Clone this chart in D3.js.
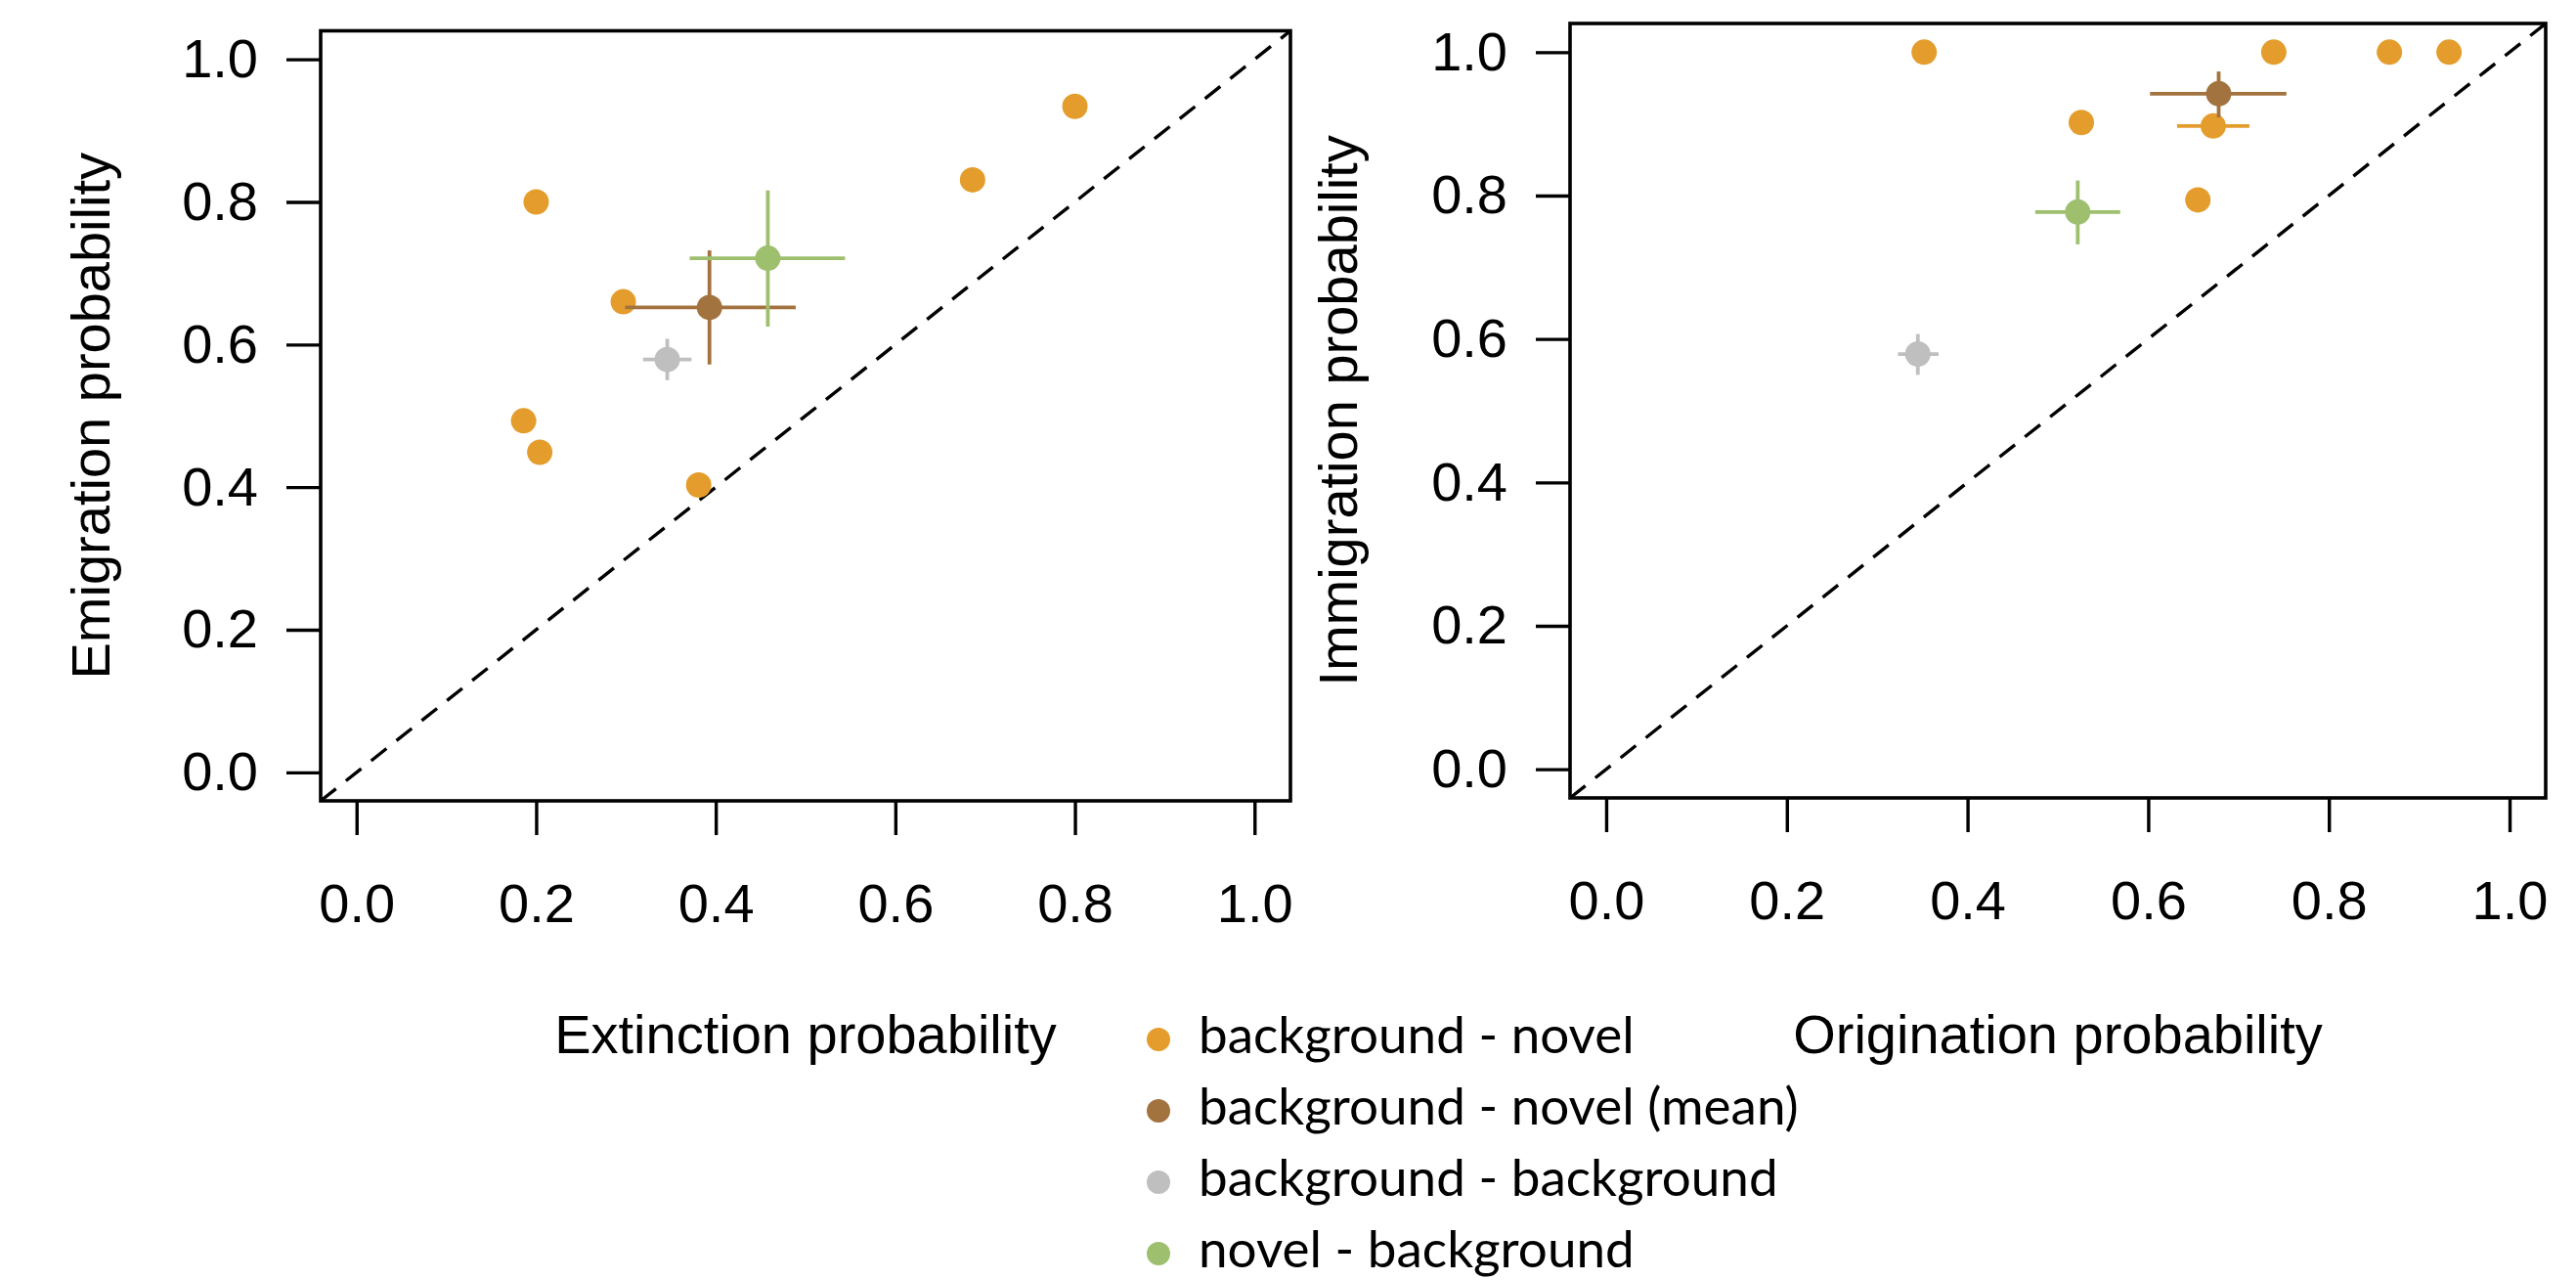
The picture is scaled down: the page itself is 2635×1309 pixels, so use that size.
<!DOCTYPE html>
<html>
<head>
<meta charset="utf-8">
<script src="https://cdn.jsdelivr.net/npm/d3@7"></script>
<style>
  body { margin: 0; background: #fff; }
  svg { display: block; }
  .axis text { font-family: "Liberation Sans", Arial, sans-serif; font-size: 56px; fill: #000; }
  .axis line { stroke: #000; stroke-width: 3.4px; }
  .aTitle { font-family: "Liberation Sans", Arial, sans-serif; font-size: 56px; fill: #000; }
  .legendText { font-family: Lato, "Open Sans", sans-serif; font-size: 53px; fill: #000; }
</style>
</head>
<body>
<div id="chart"></div>
<script>
var svgWidth = 2635;
var svgHeight = 1309;

// ticks shared by both panels
var tickValues = [0, 0.2, 0.4, 0.6, 0.8, 1.0];
var tickLabels = ["0.0", "0.2", "0.4", "0.6", "0.8", "1.0"];

var legendLabels = ["background - novel", "background - novel (mean)", "background - background", "novel - background"];
var seriesColors = ["#E49D2D", "#A3733F", "#BFBFBF", "#9DBF6E"];

// left panel: extinction vs emigration
var extNovel = [0.800, 0.686, 0.200, 0.297, 0.186, 0.204, 0.381];
var emiNovel = [0.934, 0.831, 0.800, 0.660, 0.493, 0.449, 0.403];
// summaries: mean, background-background, novel-background
var extSummary   = [0.393, 0.346, 0.458];
var extSummaryLo = [0.299, 0.319, 0.371];
var extSummaryHi = [0.489, 0.373, 0.544];
var emiSummary   = [0.652, 0.579, 0.721];
var emiSummaryLo = [0.572, 0.550, 0.625];
var emiSummaryHi = [0.732, 0.608, 0.816];

// right panel: origination vs immigration
var origNovel   = [0.352, 0.739, 0.867, 0.933, 0.526, 0.672, 0.655];
var origNovelLo = [0.352, 0.739, 0.867, 0.933, 0.526, 0.632, 0.655];
var origNovelHi = [0.352, 0.739, 0.867, 0.933, 0.526, 0.712, 0.655];
var immNovel    = [1.000, 1.000, 1.000, 1.000, 0.902, 0.897, 0.794];
var origSummary   = [0.678, 0.345, 0.522];
var origSummaryLo = [0.602, 0.323, 0.475];
var origSummaryHi = [0.753, 0.368, 0.569];
var immSummary    = [0.942, 0.579, 0.777];
var immSummaryLo  = [0.909, 0.550, 0.732];
var immSummaryHi  = [0.973, 0.607, 0.821];

var pointR = 13;
var barWidth = 3.8;

var svg = d3.select("#chart")
  .append("svg")
  .attr("width", svgWidth)
  .attr("height", svgHeight);

function drawPanel(box, xTitle, yTitle, yTitleX, novelX, novelXLo, novelXHi, novelY,
                   sumX, sumXLo, sumXHi, sumY, sumYLo, sumYHi) {
  var x = d3.scaleLinear().domain([-0.04, 1.04]).range([box.left, box.right]);
  var y = d3.scaleLinear().domain([-0.04, 1.04]).range([box.bottom, box.top]);

  // 1:1 line
  svg.append("line")
    .attr("x1", x(-0.04)).attr("y1", y(-0.04))
    .attr("x2", x(1.04)).attr("y2", y(1.04))
    .attr("stroke", "#000")
    .attr("stroke-width", 3.4)
    .attr("stroke-dasharray", "20,13");

  // background - novel points (some with an error bar)
  for (var i = 0; i < novelX.length; i++) {
    if (novelXLo && novelXLo[i] != novelXHi[i]) {
      svg.append("line")
        .attr("x1", x(novelXLo[i])).attr("x2", x(novelXHi[i]))
        .attr("y1", y(novelY[i])).attr("y2", y(novelY[i]))
        .attr("stroke", seriesColors[0])
        .attr("stroke-width", barWidth);
    }
    svg.append("circle")
      .attr("cx", x(novelX[i]))
      .attr("cy", y(novelY[i]))
      .attr("r", pointR)
      .attr("fill", seriesColors[0]);
  }

  // summary points with crosses
  for (var j = 0; j < sumX.length; j++) {
    var col = seriesColors[j + 1];
    svg.append("line")
      .attr("x1", x(sumXLo[j])).attr("x2", x(sumXHi[j]))
      .attr("y1", y(sumY[j])).attr("y2", y(sumY[j]))
      .attr("stroke", col).attr("stroke-width", barWidth);
    svg.append("line")
      .attr("x1", x(sumX[j])).attr("x2", x(sumX[j]))
      .attr("y1", y(sumYLo[j])).attr("y2", y(sumYHi[j]))
      .attr("stroke", col).attr("stroke-width", barWidth);
    svg.append("circle")
      .attr("cx", x(sumX[j]))
      .attr("cy", y(sumY[j]))
      .attr("r", pointR)
      .attr("fill", col);
  }

  var leftAxis = d3.axisLeft(y)
    .tickValues(tickValues)
    .tickFormat(function(d, i) { return tickLabels[i]; })
    .tickSize(35)
    .tickPadding(29);
  var bottomAxis = d3.axisBottom(x)
    .tickValues(tickValues)
    .tickFormat(function(d, i) { return tickLabels[i]; })
    .tickSize(35)
    .tickPadding(49);

  svg.append("g")
    .classed("axis", true)
    .attr("transform", `translate(${box.left}, 0)`)
    .call(leftAxis)
    .call(function(g) { g.select(".domain").remove(); });

  svg.append("g")
    .classed("axis", true)
    .attr("transform", `translate(0, ${box.bottom})`)
    .call(bottomAxis)
    .call(function(g) { g.select(".domain").remove(); });

  // frame
  svg.append("rect")
    .attr("x", box.left).attr("y", box.top)
    .attr("width", box.right - box.left)
    .attr("height", box.bottom - box.top)
    .attr("fill", "none")
    .attr("stroke", "#000")
    .attr("stroke-width", 3.6);

  // x title
  svg.append("text")
    .attr("x", (box.left + box.right) / 2)
    .attr("y", 1077)
    .attr("text-anchor", "middle")
    .classed("aTitle", true)
    .text(xTitle);

  // y title
  svg.append("text")
    .attr("transform", `translate(${yTitleX}, ${(box.top + box.bottom) / 2}) rotate(-90)`)
    .attr("text-anchor", "middle")
    .classed("aTitle", true)
    .text(yTitle);
}

drawPanel({left: 328, right: 1320, top: 31.5, bottom: 819},
  "Extinction probability", "Emigration probability", 112,
  extNovel, null, null, emiNovel,
  extSummary, extSummaryLo, extSummaryHi, emiSummary, emiSummaryLo, emiSummaryHi);

drawPanel({left: 1606, right: 2604, top: 24, bottom: 816},
  "Origination probability", "Immigration probability", 1388,
  origNovel, origNovelLo, origNovelHi, immNovel,
  origSummary, origSummaryLo, origSummaryHi, immSummary, immSummaryLo, immSummaryHi);

// legend
var legendY = d3.scalePoint()
  .domain(legendLabels)
  .range([1063, 1282]);

var legend = svg.append("g");
legendLabels.forEach(function(label, i) {
  legend.append("circle")
    .attr("cx", 1185)
    .attr("cy", legendY(label))
    .attr("r", 12)
    .attr("fill", seriesColors[i]);
  legend.append("text")
    .attr("x", 1226)
    .attr("y", legendY(label) + 14)
    .classed("legendText", true)
    .text(label);
});
</script>
</body>
</html>
